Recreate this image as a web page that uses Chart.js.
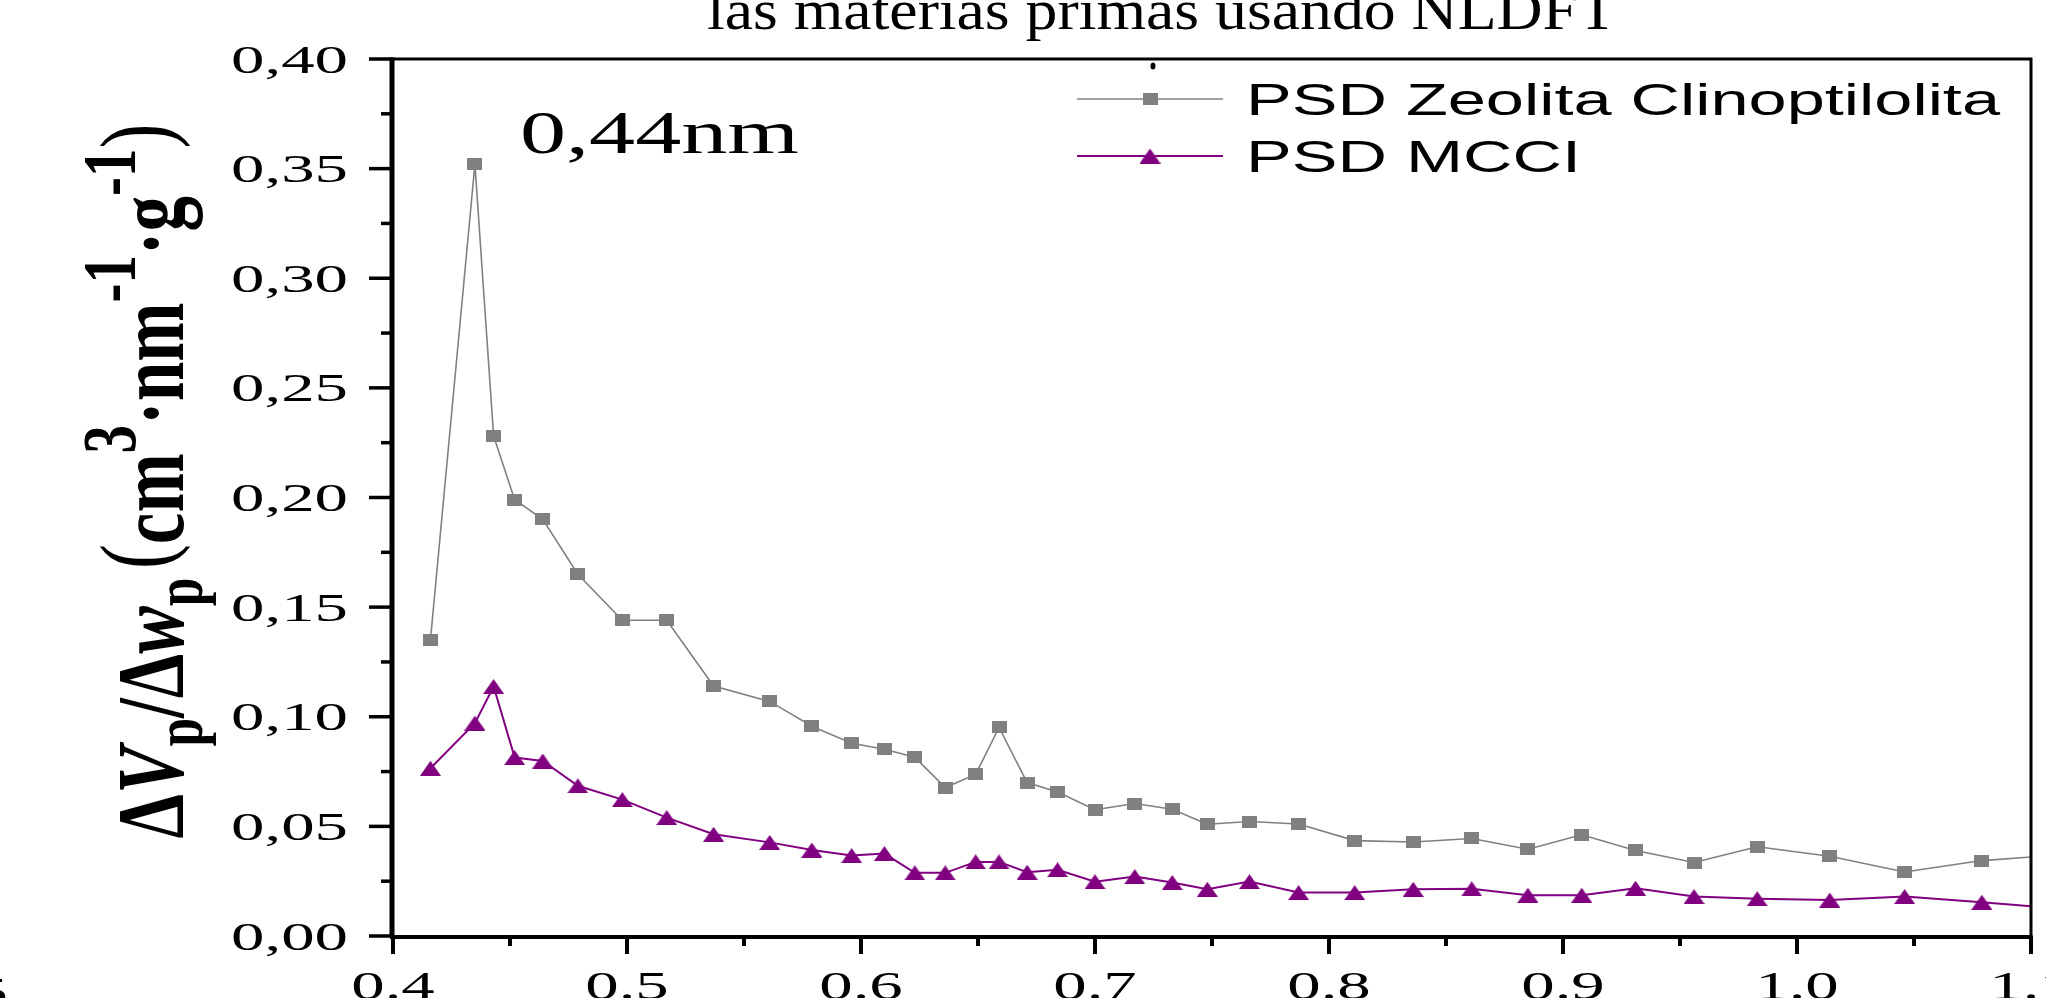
<!DOCTYPE html>
<html>
<head>
<meta charset="utf-8">
<title>PSD NLDFT</title>
<script src="https://cdn.jsdelivr.net/npm/chart.js@4.4.0/dist/chart.umd.min.js"></script>
<style>
  html, body { margin: 0; padding: 0; background: #fff; overflow: hidden; }
  #wrap { width: 2046px; height: 998px; position: relative; }
</style>
</head>
<body>
<div id="wrap"><canvas id="psdChart"></canvas></div>
<script>
// pore width (nm), shared by both series
const poreWidth = [0.416, 0.435, 0.443, 0.452, 0.464, 0.479, 0.498, 0.517, 0.537, 0.561,
    0.579, 0.596, 0.610, 0.623, 0.636, 0.649, 0.659, 0.671, 0.684, 0.700,
    0.717, 0.733, 0.748, 0.766, 0.787, 0.811, 0.836, 0.861, 0.885, 0.908,
    0.931, 0.956, 0.983, 1.014, 1.046, 1.079, 1.112];

const psdZeolita = [0.135, 0.352, 0.228, 0.199, 0.190, 0.165, 0.144, 0.144, 0.114, 0.107,
    0.0957, 0.0879, 0.0852, 0.0815, 0.0677, 0.0737, 0.0951, 0.0700, 0.0657, 0.0576,
    0.0604, 0.0578, 0.0510, 0.0522, 0.0511, 0.0435, 0.0429, 0.0445, 0.0396, 0.0462,
    0.0390, 0.0335, 0.0407, 0.0364, 0.0292, 0.0344, 0.0370];

const psdMCCI = [0.0765, 0.0971, 0.1138, 0.0814, 0.0798, 0.0685, 0.0622, 0.0540, 0.0464, 0.0427,
    0.0392, 0.0367, 0.0376, 0.0288, 0.0288, 0.0338, 0.0338, 0.0291, 0.0302, 0.0248,
    0.0271, 0.0244, 0.0213, 0.0248, 0.0198, 0.0198, 0.0213, 0.0215, 0.0186, 0.0186,
    0.0218, 0.0180, 0.0170, 0.0164, 0.0180, 0.0154, 0.0125];

const seriesNames = ['PSD Zeolita Clinoptilolita', 'PSD MCCI'];

const yTicks = [0, 0.05, 0.10, 0.15, 0.20, 0.25, 0.30, 0.35, 0.40];
const yTickLabels = ['0,00', '0,05', '0,10', '0,15', '0,20', '0,25', '0,30', '0,35', '0,40'];
const yMinorTicks = [0.025, 0.075, 0.125, 0.175, 0.225, 0.275, 0.325, 0.375];
const xTicks = [0.4, 0.5, 0.6, 0.7, 0.8, 0.9, 1.0, 1.1];
const xTickLabels = ['0.4', '0.5', '0.6', '0.7', '0.8', '0.9', '1.0', '1.1'];
const xMinorTicks = [0.45, 0.55, 0.65, 0.75, 0.85, 0.95, 1.05];

const titleText = 'las materias primas usando NLDFT';
const peakNote = '0,44nm';

const GRAY = '#808080';
const PURPLE = '#800080';

// stretched markers (the original picture is wider than tall)
function makeSquare() {
    const c = document.createElement('canvas');
    c.width = 15; c.height = 12;
    const g = c.getContext('2d');
    g.fillStyle = GRAY;
    g.fillRect(0, 0, 15, 12);
    return c;
}
function makeTriangle() {
    const c = document.createElement('canvas');
    c.width = 21; c.height = 15;
    const g = c.getContext('2d');
    g.fillStyle = PURPLE;
    g.beginPath();
    g.moveTo(10.5, 0);
    g.lineTo(21, 15);
    g.lineTo(0, 15);
    g.closePath();
    g.fill();
    return c;
}
const squareMark = makeSquare();
const triangleMark = makeTriangle();

function toPoints(ys) {
    return poreWidth.map((x, i) => ({ x: x, y: ys[i] }));
}

// text with horizontal stretch
function stretchText(ctx, text, x, y, font, sx, align) {
    ctx.save();
    ctx.font = font;
    const w = ctx.measureText(text).width * sx;
    let left = x;
    if (align === 'right') left = x - w;
    else if (align === 'center') left = x - w / 2;
    ctx.translate(left, y);
    ctx.scale(sx, 1);
    ctx.textAlign = 'left';
    ctx.textBaseline = 'alphabetic';
    ctx.fillText(text, 0, 0);
    ctx.restore();
}
function fitText(ctx, text, x, y, font, width) {
    ctx.save();
    ctx.font = font;
    const sx = width / ctx.measureText(text).width;
    ctx.restore();
    stretchText(ctx, text, x, y, font, sx, 'left');
}

function drawYLabel(ctx) {
    const runs = [
        { t: 'Δ' }, { t: 'V', it: true }, { t: 'p', sub: true }, { t: '/Δ' }, { t: 'w', it: true }, { t: 'p', sub: true },
        { t: ' ', thin: true }, { t: '(', paren: true }, { t: 'cm' }, { t: '3', sup: true }, { t: '·nm' },
        { t: '-1', sup: true }, { t: '·g' }, { t: '-1', sup: true }, { t: ')', paren: true }
    ];
    const fam = '"Liberation Serif", "Times New Roman", serif';
    const fontFor = (r, F) => {
        if (r.paren) return (F * 1.05) + 'px ' + fam;
        let size = F;
        if (r.sub) size = F * 0.72;
        if (r.sup) size = F * 0.8;
        if (r.thin) size = F * 0.5;
        return (r.it ? 'italic ' : '') + 'bold ' + size + 'px ' + fam;
    };
    const measure = F => runs.reduce((s, r) => { ctx.font = fontFor(r, F); return s + ctx.measureText(r.t).width; }, 0);
    const targetLen = 715;
    const F = 72 * targetLen / measure(72);
    const sy = 63 / (0.662 * F);
    ctx.save();
    ctx.translate(183, 481);
    ctx.rotate(-Math.PI / 2);
    ctx.scale(1, sy);
    ctx.fillStyle = '#000';
    ctx.textBaseline = 'alphabetic';
    let cx = -targetLen / 2;
    runs.forEach(r => {
        ctx.font = fontFor(r, F);
        let dy = 0;
        if (r.sub) dy = F * 0.2;
        if (r.sup) dy = -F * 0.5;
        if (r.paren) dy = -F * 0.15;
        ctx.fillText(r.t, cx, dy);
        cx += ctx.measureText(r.t).width;
    });
    ctx.restore();
}

const originStyle = {
    id: 'originStyle',
    afterDatasetsDraw(chart) {
        const { ctx, chartArea: a, scales: { x, y } } = chart;
        ctx.save();
        ctx.strokeStyle = '#000';
        ctx.fillStyle = '#000';

        // frame
        ctx.lineWidth = 3;
        ctx.beginPath();
        ctx.moveTo(a.left, a.top);
        ctx.lineTo(a.right, a.top);
        ctx.lineTo(a.right, a.bottom);
        ctx.stroke();
        ctx.lineWidth = 5;
        ctx.beginPath();
        ctx.moveTo(a.left - 1, a.top - 1.5);
        ctx.lineTo(a.left - 1, a.bottom + 1);
        ctx.stroke();
        ctx.lineWidth = 4;
        ctx.beginPath();
        ctx.moveTo(a.left - 3, a.bottom + 1);
        ctx.lineTo(a.right + 1.5, a.bottom + 1);
        ctx.stroke();

        // y ticks
        ctx.lineWidth = 3.5;
        yTicks.forEach(v => {
            const py = y.getPixelForValue(v);
            ctx.beginPath(); ctx.moveTo(a.left, py); ctx.lineTo(a.left - 24, py); ctx.stroke();
        });
        yMinorTicks.forEach(v => {
            const py = y.getPixelForValue(v);
            ctx.beginPath(); ctx.moveTo(a.left, py); ctx.lineTo(a.left - 12, py); ctx.stroke();
        });
        // x ticks
        ctx.lineWidth = 4;
        xTicks.forEach(v => {
            const px = x.getPixelForValue(v);
            ctx.beginPath(); ctx.moveTo(px, a.bottom); ctx.lineTo(px, a.bottom + 18); ctx.stroke();
        });
        xMinorTicks.forEach(v => {
            const px = x.getPixelForValue(v);
            ctx.beginPath(); ctx.moveTo(px, a.bottom); ctx.lineTo(px, a.bottom + 10); ctx.stroke();
        });

        const tickFont = '40px "Liberation Serif", "Times New Roman", serif';
        yTicks.forEach((v, i) => {
            stretchText(ctx, yTickLabels[i], 348, y.getPixelForValue(v) + 13.5, tickFont, 1.67, 'right');
        });
        xTicks.forEach((v, i) => {
            stretchText(ctx, xTickLabels[i], x.getPixelForValue(v), 999, tickFont, 1.67, 'center');
        });
        stretchText(ctx, '5', 8, 1005, tickFont, 1.67, 'right');

        // title (cut at the top in the source)
        fitText(ctx, titleText, 707, 29, '56px "Liberation Serif", "Times New Roman", serif', 910);
        // peak annotation
        fitText(ctx, peakNote, 520, 153, '62px "Liberation Serif", "Times New Roman", serif', 279);

        // legend
        const legendRows = [
            { name: seriesNames[0], color: GRAY, mark: squareMark, y: 99, lw: 1.5, base: 115 },
            { name: seriesNames[1], color: PURPLE, mark: triangleMark, y: 156, lw: 2, base: 172 }
        ];
        const legFont = '45px "Liberation Sans", Arial, sans-serif';
        ctx.font = legFont;
        const legSx = 754 / ctx.measureText(seriesNames[0]).width;
        legendRows.forEach(r => {
            ctx.strokeStyle = r.color;
            ctx.lineWidth = r.lw;
            ctx.beginPath(); ctx.moveTo(1077, r.y); ctx.lineTo(1223, r.y); ctx.stroke();
            ctx.drawImage(r.mark, 1150 - r.mark.width / 2, r.y - r.mark.height / 2);
            ctx.fillStyle = '#000';
            stretchText(ctx, r.name, 1246, r.base, legFont, legSx, 'left');
        });
        // stray dot above the legend
        ctx.fillStyle = '#000';
        ctx.beginPath(); ctx.ellipse(1153, 66, 2.5, 3.5, 0, 0, Math.PI * 2); ctx.fill();

        drawYLabel(ctx);
        ctx.restore();
    }
};

new Chart(document.getElementById('psdChart').getContext('2d'), {
    type: 'line',
    data: {
        datasets: [
            {
                label: seriesNames[0],
                data: toPoints(psdZeolita),
                borderColor: GRAY,
                backgroundColor: GRAY,
                borderWidth: 1.6,
                pointStyle: squareMark,
                pointRadius: 7,
                tension: 0,
                order: 2
            },
            {
                label: seriesNames[1],
                data: toPoints(psdMCCI),
                borderColor: PURPLE,
                backgroundColor: PURPLE,
                borderWidth: 2,
                pointStyle: triangleMark,
                pointRadius: 8,
                tension: 0,
                order: 1
            }
        ]
    },
    options: {
        responsive: true,
        maintainAspectRatio: false,
        animation: false,
        layout: { padding: { left: 0, top: 59, right: 15, bottom: 0 } },
        plugins: {
            legend: { display: false },
            tooltip: { enabled: false },
            title: { display: false }
        },
        scales: {
            x: {
                type: 'linear',
                min: 0.4,
                max: 1.1,
                grid: { display: false },
                border: { display: false },
                ticks: { display: false },
                afterFit: s => { s.height = 62; }
            },
            y: {
                min: 0,
                max: 0.4,
                grid: { display: false },
                border: { display: false },
                ticks: { display: false },
                afterFit: s => { s.width = 393; }
            }
        }
    },
    plugins: [originStyle]
});
</script>
</body>
</html>
